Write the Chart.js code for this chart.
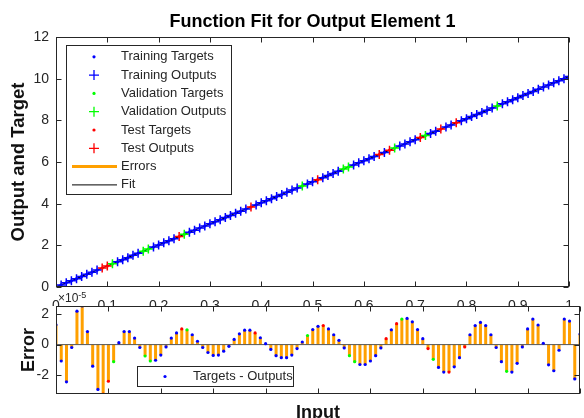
<!DOCTYPE html>
<html>
<head>
<meta charset="utf-8">
<script src="https://cdn.jsdelivr.net/npm/chart.js@4.4.0/dist/chart.umd.min.js"></script>
<style>
  html, body { margin: 0; padding: 0; background: #fff; overflow: hidden; width: 584px; height: 418px; }
  #fitChart { position: absolute; left: 0; top: 0; }
  #errChart { position: absolute; left: 0; top: 288px; }
</style>
</head>
<body>
<canvas id="fitChart" width="584" height="306"></canvas>
<canvas id="errChart" width="584" height="140"></canvas>
<script>
// inputs, targets and errors (errors are in units of 1e-5)
const inputs = [
  0.00, 0.01, 0.02, 0.03, 0.04, 0.05, 0.06, 0.07, 0.08, 0.09,
  0.10, 0.11, 0.12, 0.13, 0.14, 0.15, 0.16, 0.17, 0.18, 0.19,
  0.20, 0.21, 0.22, 0.23, 0.24, 0.25, 0.26, 0.27, 0.28, 0.29,
  0.30, 0.31, 0.32, 0.33, 0.34, 0.35, 0.36, 0.37, 0.38, 0.39,
  0.40, 0.41, 0.42, 0.43, 0.44, 0.45, 0.46, 0.47, 0.48, 0.49,
  0.50, 0.51, 0.52, 0.53, 0.54, 0.55, 0.56, 0.57, 0.58, 0.59,
  0.60, 0.61, 0.62, 0.63, 0.64, 0.65, 0.66, 0.67, 0.68, 0.69,
  0.70, 0.71, 0.72, 0.73, 0.74, 0.75, 0.76, 0.77, 0.78, 0.79,
  0.80, 0.81, 0.82, 0.83, 0.84, 0.85, 0.86, 0.87, 0.88, 0.89,
  0.90, 0.91, 0.92, 0.93, 0.94, 0.95, 0.96, 0.97, 0.98, 0.99,
  1.00
];
const targets = [
  0.00, 0.10, 0.20, 0.30, 0.40, 0.51, 0.61, 0.71, 0.81, 0.91,
  1.01, 1.11, 1.21, 1.31, 1.41, 1.52, 1.62, 1.72, 1.82, 1.92,
  2.02, 2.12, 2.22, 2.32, 2.42, 2.53, 2.63, 2.73, 2.83, 2.93,
  3.03, 3.13, 3.23, 3.33, 3.43, 3.54, 3.64, 3.74, 3.84, 3.94,
  4.04, 4.14, 4.24, 4.34, 4.44, 4.55, 4.65, 4.75, 4.85, 4.95,
  5.05, 5.15, 5.25, 5.35, 5.45, 5.56, 5.66, 5.76, 5.86, 5.96,
  6.06, 6.16, 6.26, 6.36, 6.46, 6.57, 6.67, 6.77, 6.87, 6.97,
  7.07, 7.17, 7.27, 7.37, 7.47, 7.58, 7.68, 7.78, 7.88, 7.98,
  8.08, 8.18, 8.28, 8.38, 8.48, 8.59, 8.69, 8.79, 8.89, 8.99,
  9.09, 9.19, 9.29, 9.39, 9.49, 9.60, 9.70, 9.80, 9.90, 10.00,
  10.10
];
const errors = [
  1.30, -1.08, -2.45, -0.19, 2.20, 2.54, 0.86, -1.42, -2.95, -3.25,
  -2.41, -1.12, 0.13, 0.86, 0.86, 0.43, -0.19, -0.75, -1.08, -1.03,
  -0.69, -0.15, 0.43, 0.77, 1.03, 0.97, 0.65, 0.22, -0.19, -0.52,
  -0.71, -0.69, -0.43, -0.11, 0.34, 0.71, 0.95, 0.95, 0.77, 0.45,
  0.06, -0.32, -0.73, -0.86, -0.86, -0.69, -0.26, 0.17, 0.60, 0.99,
  1.20, 1.25, 1.03, 0.65, 0.28, -0.22, -0.73, -1.12, -1.31, -1.31,
  -1.08, -0.73, -0.22, 0.39, 0.97, 1.38, 1.68, 1.72, 1.50, 0.99,
  0.39, -0.26, -0.97, -1.50, -1.81, -1.81, -1.46, -0.86, -0.15, 0.65,
  1.25, 1.46, 1.25, 0.65, -0.19, -1.12, -1.76, -1.81, -1.23, -0.15,
  1.03, 1.68, 1.29, 0.09, -1.33, -1.72, -0.37, 1.68, 1.55, -2.26,
  0.69
];
const errScale = 1e-5;
const validationIdx = [11, 17, 18, 25, 48, 56, 57, 66, 72, 86];
const testIdx = [9, 10, 24, 38, 51, 63, 65, 71, 75, 78];

const fitTicksX = [0, 0.1, 0.2, 0.3, 0.4, 0.5, 0.6, 0.7, 0.8, 0.9, 1];
const fitTicksY = [0, 2, 4, 6, 8, 10, 12];
const errTicksY = [-2, 0, 2];

const BLUE = '#0000ff', GREEN = '#00ff00', RED = '#ff0000', ORANGE = '#ffa000';
const AXIS = '#262626';
const FONT = '"Liberation Sans", Arial, Helvetica, sans-serif';

Chart.defaults.font.family = FONT;
Chart.defaults.color = AXIS;

const outputs = targets.map((t, i) => t - errors[i] * errScale);

function setOf(i) {
  if (testIdx.includes(i)) return 'test';
  if (validationIdx.includes(i)) return 'val';
  return 'train';
}
function pick(name, ys) {
  return inputs.map((x, i) => ({ x: x, y: ys[i], s: setOf(i) })).filter(p => p.s === name);
}

// box round the plot with inward ticks on all four sides
const axesBox = {
  id: 'axesBox',
  beforeDraw(chart, args, o) {
    if (!o.fill) return;
    const a = chart.chartArea;
    chart.ctx.save();
    chart.ctx.fillStyle = '#fff';
    chart.ctx.fillRect(a.left, a.top, a.right - a.left, a.bottom - a.top);
    chart.ctx.restore();
  },
  afterDraw(chart, args, o) {
    const { ctx, chartArea: a, scales } = chart;
    const L = Math.round(a.left) + 0.5, R = Math.round(a.right) - 0.5;
    const T = Math.round(a.top) + 0.5, B = Math.round(a.bottom) - 0.5;
    const len = 5;
    ctx.save();
    ctx.strokeStyle = AXIS;
    ctx.lineWidth = 1;
    ctx.beginPath();
    scales.x.ticks.forEach(t => {
      const px = Math.round(scales.x.getPixelForValue(t.value)) + 0.5;
      ctx.moveTo(px, B); ctx.lineTo(px, B - len);
      ctx.moveTo(px, T); ctx.lineTo(px, T + len);
    });
    scales.y.ticks.forEach(t => {
      const py = Math.round(scales.y.getPixelForValue(t.value)) + 0.5;
      ctx.moveTo(L, py); ctx.lineTo(L + len, py);
      ctx.moveTo(R, py); ctx.lineTo(R - len, py);
    });
    ctx.stroke();
    ctx.strokeRect(L, T, R - L, B - T);
    ctx.restore();
  }
};

// legend drawn inside the plot, the way the reference shows it
const boxLegend = {
  id: 'boxLegend',
  afterDraw(chart, args, o) {
    const ctx = chart.ctx;
    ctx.save();
    ctx.fillStyle = '#fff';
    ctx.fillRect(o.x, o.y, o.w, o.h);
    ctx.strokeStyle = AXIS;
    ctx.lineWidth = 1;
    ctx.strokeRect(o.x + 0.5, o.y + 0.5, o.w, o.h);
    ctx.font = '13px ' + FONT;
    ctx.textBaseline = 'middle';
    chart.data.datasets.filter(d => d.legend).forEach((d, i) => {
      const cy = o.first + i * o.rowH;
      const col = d.borderColor;
      if (d.legend === 'dot') {
        ctx.fillStyle = col;
        ctx.beginPath();
        ctx.arc(o.markX, cy, 1.6, 0, Math.PI * 2);
        ctx.fill();
      } else if (d.legend === 'cross') {
        ctx.strokeStyle = col;
        ctx.lineWidth = 1.3;
        ctx.beginPath();
        ctx.moveTo(o.markX - 5, cy); ctx.lineTo(o.markX + 5, cy);
        ctx.moveTo(o.markX, cy - 5); ctx.lineTo(o.markX, cy + 5);
        ctx.stroke();
      } else {
        ctx.strokeStyle = col;
        ctx.lineWidth = d.legendWidth;
        ctx.beginPath();
        ctx.moveTo(o.lineX0, cy); ctx.lineTo(o.lineX1, cy);
        ctx.stroke();
      }
      ctx.fillStyle = AXIS;
      ctx.fillText(d.label, o.textX, cy);
    });
    ctx.restore();
  }
};

// "x10^-5" exponent label of the error axis
const exponentLabel = {
  id: 'exponentLabel',
  afterDraw(chart) {
    const ctx = chart.ctx;
    const a = chart.chartArea;
    ctx.save();
    ctx.fillStyle = AXIS;
    ctx.textBaseline = 'alphabetic';
    ctx.font = '12px ' + FONT;
    ctx.fillText('\u00d710', a.left + 2, a.top - 4);
    const w = ctx.measureText('\u00d710').width;
    ctx.font = '9px ' + FONT;
    ctx.fillText('-5', a.left + 2 + w, a.top - 8.5);
    ctx.restore();
  }
};

function dotSet(label, data, color, legend, order) {
  return {
    label: label, data: data, legend: legend, order: order,
    pointStyle: 'circle', pointRadius: 1.6, pointBorderWidth: 0,
    backgroundColor: color, borderColor: color, showLine: false
  };
}
function crossSet(label, data, color, order) {
  return {
    label: label, data: data, legend: 'cross', order: order,
    pointStyle: 'cross', pointRadius: 4.5, pointBorderWidth: 1.5,
    backgroundColor: color, borderColor: color, showLine: false
  };
}

const errorSegments = inputs.flatMap((x, i) => [{ x: x, y: targets[i] }, { x: x, y: outputs[i] }, { x: x, y: null }]);

new Chart(document.getElementById('fitChart'), {
  type: 'scatter',
  data: {
    datasets: [
      dotSet('Training Targets', pick('train', targets), BLUE, 'dot', 2),
      crossSet('Training Outputs', pick('train', outputs), BLUE, 1),
      dotSet('Validation Targets', pick('val', targets), GREEN, 'dot', 2),
      crossSet('Validation Outputs', pick('val', outputs), GREEN, 1),
      dotSet('Test Targets', pick('test', targets), RED, 'dot', 2),
      crossSet('Test Outputs', pick('test', outputs), RED, 1),
      { label: 'Errors', data: errorSegments, legend: 'line', legendWidth: 3, order: 4,
        showLine: true, borderColor: ORANGE, borderWidth: 2, pointRadius: 0, spanGaps: false },
      { label: 'Fit', data: inputs.map((x, i) => ({ x: x, y: outputs[i] })), legend: 'line', legendWidth: 1, order: 5,
        showLine: true, borderColor: '#000', borderWidth: 1.2, pointRadius: 0 }
    ]
  },
  options: {
    responsive: false,
    animation: false,
    events: [],
    layout: { padding: { right: 2 } },
    plugins: {
      legend: { display: false },
      tooltip: { enabled: false },
      title: {
        display: true, fullSize: false,
        text: 'Function Fit for Output Element 1',
        color: '#000',
        font: { size: 18, weight: 'bold' },
        padding: { top: 11.5, bottom: 3.9 }
      },
      axesBox: { fill: false },
      boxLegend: { x: 66, y: 45, w: 165, h: 149, first: 56.8, rowH: 18.3,
                   markX: 94, lineX0: 72, lineX1: 117, textX: 121 }
    },
    scales: {
      x: {
        type: 'linear', min: 0, max: 1,
        grid: { display: false, drawTicks: false }, border: { display: false },
        afterBuildTicks: s => { s.ticks = fitTicksX.map(v => ({ value: v })); },
        afterFit: s => { s.height = 19; },
        ticks: { padding: 11, font: { size: 14 }, maxRotation: 0, autoSkip: false, callback: v => String(v) }
      },
      y: {
        type: 'linear', min: 0, max: 12,
        grid: { display: false, drawTicks: false }, border: { display: false },
        afterBuildTicks: s => { s.ticks = fitTicksY.map(v => ({ value: v })); },
        afterFit: s => { s.width = 56; },
        ticks: { padding: 7, font: { size: 14 }, callback: v => String(v) },
        title: { display: true, text: 'Output and Target', color: '#111',
                 font: { size: 18.5, weight: 'bold' }, padding: { top: 8, bottom: 0 } }
      }
    }
  },
  plugins: [axesBox, boxLegend]
});

const errStems = inputs.flatMap((x, i) => [{ x: x, y: 0 }, { x: x, y: errors[i] }, { x: x, y: null }]);

new Chart(document.getElementById('errChart'), {
  type: 'scatter',
  data: {
    datasets: [
      dotSet('Targets - Outputs', pick('train', errors), BLUE, 'dot', 1),
      dotSet('Validation', pick('val', errors), GREEN, null, 1),
      dotSet('Test', pick('test', errors), RED, null, 1),
      { label: 'Zero Error', data: [{ x: inputs[0], y: 0 }, { x: inputs[inputs.length - 1], y: 0 }], order: 2,
        showLine: true, borderColor: '#555', borderWidth: 1, pointRadius: 0 },
      { label: 'Errors', data: errStems, order: 3,
        showLine: true, borderColor: ORANGE, borderWidth: 3, pointRadius: 0, spanGaps: false }
    ]
  },
  options: {
    responsive: false,
    animation: false,
    events: [],
    layout: { padding: { top: 18, right: 2 } },
    plugins: {
      legend: { display: false },
      tooltip: { enabled: false },
      axesBox: { fill: true },
      boxLegend: { x: 137, y: 78, w: 156, h: 20, first: 88.5, rowH: 18,
                   markX: 165, lineX0: 150, lineX1: 180, textX: 193 }
    },
    scales: {
      x: {
        type: 'linear', min: 0, max: 1,
        grid: { display: false, drawTicks: false }, border: { display: false },
        afterBuildTicks: s => { s.ticks = fitTicksX.map(v => ({ value: v })); },
        afterFit: s => { s.height = 34; },
        ticks: { display: false },
        title: { display: true, text: 'Input', color: '#111',
                 font: { size: 18, weight: 'bold' }, padding: { top: 0, bottom: 4.5 } }
      },
      y: {
        type: 'linear', min: Math.min(...errors), max: Math.max(...errors),
        grid: { display: false, drawTicks: false }, border: { display: false },
        afterBuildTicks: s => { s.ticks = errTicksY.map(v => ({ value: v })); },
        afterFit: s => { s.width = 56; },
        ticks: { padding: 7, font: { size: 14 }, callback: v => String(v) },
        title: { display: true, text: 'Error', color: '#111',
                 font: { size: 18, weight: 'bold' }, padding: { top: 18, bottom: 0 } }
      }
    }
  },
  plugins: [axesBox, exponentLabel, boxLegend]
});
</script>
</body>
</html>
